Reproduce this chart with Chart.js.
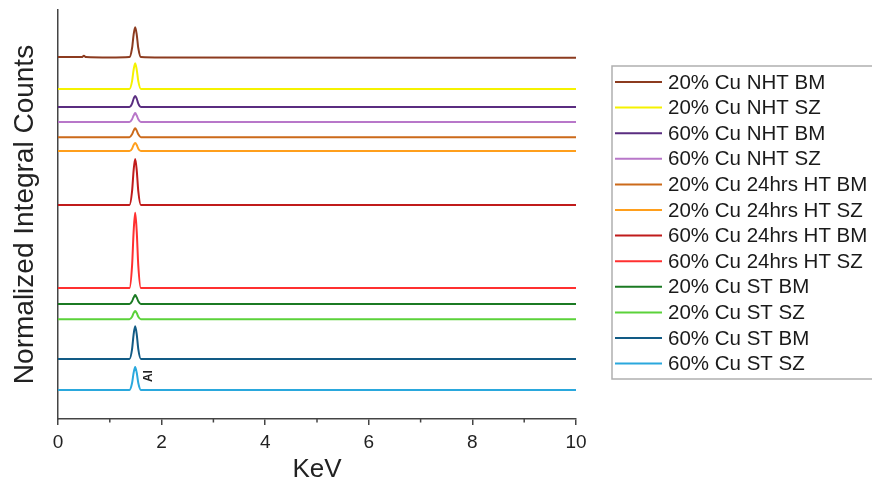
<!DOCTYPE html>
<html>
<head>
<meta charset="utf-8">
<script src="https://cdn.jsdelivr.net/npm/chart.js@4/dist/chart.umd.min.js"></script>
<style>
  html, body { margin: 0; padding: 0; background: #ffffff; }
  #wrap { width: 872px; height: 481px; }
</style>
</head>
<body>
<div id="wrap"><canvas id="c" width="872" height="481"></canvas></div>
<script>
// ---- data ----
const energyKeV = [0, 0.46, 0.5, 0.54, 1.0, 1.38, 1.43, 1.46, 1.49, 1.52, 1.55, 1.60, 2.0, 10];

const seriesLabels = [
  "20% Cu NHT BM", "20% Cu NHT SZ", "60% Cu NHT BM", "60% Cu NHT SZ",
  "20% Cu 24hrs HT BM", "20% Cu 24hrs HT SZ", "60% Cu 24hrs HT BM", "60% Cu 24hrs HT SZ",
  "20% Cu ST BM", "20% Cu ST SZ", "60% Cu ST BM", "60% Cu ST SZ"
];

const cu20NhtBm   = [88.5, 88.5, 88.8, 88.5, 88.4, 88.5, 90.7, 94.0, 95.8, 94.0, 90.7, 88.5, 88.4, 88.3];
const cu20NhtSz   = [80.7, 80.7, 80.7, 80.7, 80.7, 80.7, 82.6, 85.4, 87.0, 85.4, 82.6, 80.7, 80.7, 80.7];
const cu60NhtBm   = [76.3, 76.3, 76.3, 76.3, 76.3, 76.3, 77.1, 78.3, 79.0, 78.3, 77.1, 76.3, 76.3, 76.3];
const cu60NhtSz   = [72.6, 72.6, 72.6, 72.6, 72.6, 72.6, 73.3, 74.2, 74.8, 74.2, 73.3, 72.6, 72.6, 72.6];
const cu20HtBm    = [68.9, 68.9, 68.9, 68.9, 68.9, 68.9, 69.6, 70.5, 71.1, 70.5, 69.6, 68.9, 68.9, 68.9];
const cu20HtSz    = [65.5, 65.5, 65.5, 65.5, 65.5, 65.5, 66.1, 67.0, 67.5, 67.0, 66.1, 65.5, 65.5, 65.5];
const cu60HtBm    = [52.3, 52.3, 52.3, 52.3, 52.3, 52.3, 55.7, 60.8, 63.6, 60.8, 55.7, 52.3, 52.3, 52.3];
const cu60HtSz    = [32.0, 32.0, 32.0, 32.0, 32.0, 32.0, 37.5, 45.8, 50.4, 45.8, 37.5, 32.0, 32.0, 32.0];
const cu20StBm    = [28.1, 28.1, 28.1, 28.1, 28.1, 28.1, 28.8, 29.7, 30.3, 29.7, 28.8, 28.1, 28.1, 28.1];
const cu20StSz    = [24.4, 24.4, 24.4, 24.4, 24.4, 24.4, 25.0, 25.9, 26.4, 25.9, 25.0, 24.4, 24.4, 24.4];
const cu60StBm    = [14.7, 14.7, 14.7, 14.7, 14.7, 14.7, 17.1, 20.7, 22.7, 20.7, 17.1, 14.7, 14.7, 14.7];
const cu60StSz    = [7.1, 7.1, 7.1, 7.1, 7.1, 7.1, 8.8, 11.3, 12.7, 11.3, 8.8, 7.1, 7.1, 7.1];

const seriesValues = [cu20NhtBm, cu20NhtSz, cu60NhtBm, cu60NhtSz, cu20HtBm, cu20HtSz,
                      cu60HtBm, cu60HtSz, cu20StBm, cu20StSz, cu60StBm, cu60StSz];

const seriesColors = ["#8c3b1f", "#f5f200", "#5a2d80", "#b877c9", "#cc6a1a", "#ff9f1c",
                      "#c01b1b", "#ff3030", "#1b7a23", "#5bd23a", "#125b85", "#2aa8dd"];

const xTickValues = [0, 2, 4, 6, 8, 10];
const xMinorTicks = [1, 3, 5, 7, 9];
const peakLabel = { text: "Al", x: 1.76, y: 10.5 };

// ---- chart ----
const datasets = seriesLabels.map((lab, i) => ({
  label: lab,
  data: energyKeV.map((e, j) => ({ x: e, y: seriesValues[i][j] })),
  borderColor: seriesColors[i],
  backgroundColor: seriesColors[i],
  borderWidth: 2,
  pointRadius: 0,
  cubicInterpolationMode: 'monotone',
  fill: false
}));

const axisColor = '#444444';

const extrasPlugin = {
  id: 'extras',
  afterDraw(chart) {
    const ctx = chart.ctx;
    const xs = chart.scales.x, ys = chart.scales.y;
    const area = chart.chartArea;
    ctx.save();
    // minor ticks
    ctx.strokeStyle = axisColor;
    ctx.lineWidth = 1.5;
    xMinorTicks.forEach(v => {
      const px = xs.getPixelForValue(v);
      ctx.beginPath();
      ctx.moveTo(px, area.bottom);
      ctx.lineTo(px, area.bottom + 3.5);
      ctx.stroke();
    });
    // Al label
    const lx = xs.getPixelForValue(peakLabel.x), ly = ys.getPixelForValue(peakLabel.y);
    ctx.translate(lx, ly);
    ctx.rotate(-Math.PI / 2);
    ctx.fillStyle = '#222';
    ctx.font = 'bold 12px "Liberation Sans", Arial, sans-serif';
    ctx.textAlign = 'center';
    ctx.textBaseline = 'middle';
    ctx.fillText(peakLabel.text, 0, 0);
    ctx.restore();

    // legend
    ctx.save();
    const boxLeft = 612, boxTop = 66, boxBottom = 379;
    ctx.strokeStyle = '#b0b0b0';
    ctx.lineWidth = 1.5;
    ctx.beginPath();
    ctx.moveTo(874, boxTop);
    ctx.lineTo(boxLeft, boxTop);
    ctx.lineTo(boxLeft, boxBottom);
    ctx.lineTo(874, boxBottom);
    ctx.stroke();
    ctx.font = '20.5px "Liberation Sans", Arial, sans-serif';
    ctx.textBaseline = 'middle';
    ctx.textAlign = 'left';
    chart.data.datasets.forEach((ds, i) => {
      const y = 82 + i * 25.6;
      ctx.strokeStyle = ds.borderColor;
      ctx.lineWidth = 2;
      ctx.beginPath();
      ctx.moveTo(615, y);
      ctx.lineTo(662, y);
      ctx.stroke();
      ctx.fillStyle = '#1a1a1a';
      ctx.fillText(ds.label, 668, y + 1);
    });
    ctx.restore();
  }
};

new Chart(document.getElementById('c'), {
  type: 'line',
  data: { datasets },
  options: {
    responsive: false,
    animation: false,
    layout: { padding: { top: 10, right: 296, left: 0, bottom: 0 } },
    plugins: { legend: { display: false }, tooltip: { enabled: false } },
    scales: {
      x: {
        type: 'linear',
        min: 0, max: 10,
        afterBuildTicks: (scale) => { scale.ticks = xTickValues.map(v => ({ value: v })); },
        afterFit: (scale) => { scale.height = 62; },
        ticks: {
          color: '#222',
          font: { family: '"Liberation Sans", Arial, sans-serif', size: 19, lineHeight: 1 },
          padding: 8,
          maxRotation: 0
        },
        grid: { display: true, drawOnChartArea: false, drawTicks: true, tickLength: 6, color: axisColor, lineWidth: 1.5 },
        border: { display: true, color: axisColor, width: 1.5 },
        title: {
          display: true, text: 'KeV', color: '#222',
          font: { family: '"Liberation Sans", Arial, sans-serif', size: 26, lineHeight: 0.885 },
          padding: { top: 0, bottom: 0 }
        }
      },
      y: {
        type: 'linear',
        min: 0, max: 100,
        afterFit: (scale) => { scale.width = 58; },
        ticks: { display: false },
        grid: { display: false },
        border: { display: true, color: axisColor, width: 1.5 },
        title: {
          display: true, text: 'Normalized Integral Counts', color: '#222',
          font: { family: '"Liberation Sans", Arial, sans-serif', size: 28, lineHeight: 1 },
          padding: { top: 11, bottom: 0 }
        }
      }
    }
  },
  plugins: [extrasPlugin]
});
</script>
</body>
</html>
